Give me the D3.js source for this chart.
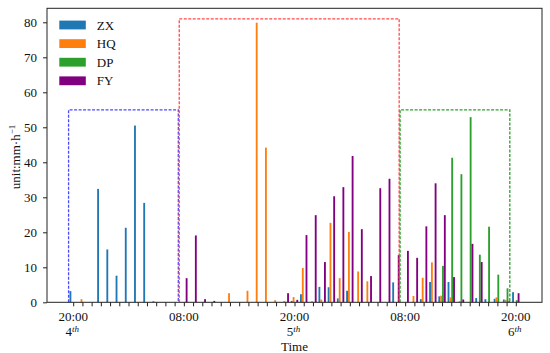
<!DOCTYPE html>
<html>
<head>
<meta charset="utf-8">
<script src="https://cdn.jsdelivr.net/npm/d3@7"></script>
<style>
  body { margin: 0; background: #fff; }
  text { font-family: "Liberation Serif", "Times New Roman", serif; }
</style>
</head>
<body>
<div id="chart"></div>
<script>
// hourly rainfall, index 0 = 20:00 on the 4th, 48 = 20:00 on the 6th
var series = ["ZX", "HQ", "DP", "FY"]
var colors = ["#1f77b4", "#ff7f0e", "#2ca02c", "#800080"]

var ZX = [3.2, 0, 0, 32.4, 15.1, 7.6, 21.3, 50.5, 28.4, 0.3, 0, 0,
  0, 0, 0, 0, 0, 0, 0, 0, 0, 0, 0, 0,
  0.4, 2.3, 0, 4.4, 4.3, 1.1, 3.3, 0, 0, 0, 0, 5.7,
  0, 0, 0.9, 5.8, 1.7, 5.8, 0, 0, 1.2, 0.9, 1.0, 0.8,
  2.9]
var HQ = [0, 0.9, 0, 0, 0, 0, 0, 0, 0, 0, 0, 0,
  0, 0, 0, 0, 0, 2.6, 0, 3.3, 79.9, 44.2, 0.6, 0.4,
  1.5, 9.8, 0.3, 0.8, 22.7, 6.9, 20.1, 8.8, 6.0, 0, 0, 0,
  0, 1.8, 7.0, 11.4, 1.9, 1.4, 0.3, 0, 0, 0, 1.4, 0.7,
  0]
var DP = [0, 0, 0, 0, 0, 0, 0, 0, 0, 0, 0, 0,
  0, 0, 0, 0, 0, 0, 0, 0, 0, 0, 0, 0,
  0, 0, 0, 0, 0, 0, 0, 0, 0, 0, 0, 0,
  0, 0, 0, 0, 10.4, 41.3, 36.6, 52.9, 13.6, 21.6, 7.9, 4.0,
  0.6]
var FY = [0, 0, 0, 0, 0, 0, 0, 0, 0, 0, 0, 0,
  6.9, 19.1, 0.9, 0.4, 0, 0, 0, 0, 0, 0, 0, 2.6,
  0.7, 19.2, 24.9, 11.5, 30.3, 32.9, 41.8, 20.9, 7.5, 32.6, 35.3, 13.5,
  14.7, 12.7, 21.7, 34.0, 24.9, 7.2, 0.8, 16.7, 11.5, 0, 0, 0.3,
  2.6]

// tick labels
var labelHours = [0, 12, 24, 36, 48]
var labelTimes = ["20:00", "08:00", "20:00", "08:00", "20:00"]
var labelDays = ["4", "", "5", "", "6"]

// dashed boxes: start hour, end hour, height
var boxStart = [-0.5, 11.5, 35.45]
var boxEnd = [11.4, 35.35, 47.35]
var boxTop = [55, 81, 55]
var boxColors = ["#4a4aff", "#ff4a4a", "#2ca02c"]

var yTicks = [0, 10, 20, 30, 40, 50, 60, 70, 80]

var values = { ZX: ZX, HQ: HQ, DP: DP, FY: FY }
var n = ZX.length

var W = 550, H = 353
var margin = { top: 8.3, right: 8, bottom: 50.7, left: 47 }
var iw = W - margin.left - margin.right
var ih = H - margin.top - margin.bottom
var fs = 13

var pad = 0.05 * (n - 1 + 0.8)
var x = d3.scaleLinear()
  .domain([-0.4 - pad, n - 1 + 0.4 + pad])
  .range([0, iw])

var offset = d3.scaleBand()
  .domain(series)
  .range([-0.4, 0.4])

var y = d3.scaleLinear()
  .domain([0, 84])
  .range([ih, 0])

var svg = d3.select("#chart").append("svg")
  .attr("width", W)
  .attr("height", H)

var g = svg.append("g")
  .attr("transform", `translate(${margin.left},${margin.top})`)

// bars
series.forEach(function (s, k) {
  g.append("g")
    .attr("fill", colors[k])
    .selectAll("rect")
    .data(values[s])
    .join("rect")
    .attr("x", (d, i) => x(i + offset(s)))
    .attr("width", x(offset.bandwidth()) - x(0))
    .attr("y", d => y(d))
    .attr("height", d => y(0) - y(d))
})

// dashed boxes
boxStart.forEach(function (b, k) {
  g.append("path")
    .attr("d", d3.line()([
      [x(b), y(0)], [x(b), y(boxTop[k])],
      [x(boxEnd[k]), y(boxTop[k])], [x(boxEnd[k]), y(0)]
    ]))
    .attr("fill", "none")
    .attr("stroke", boxColors[k])
    .attr("stroke-width", 1.3)
    .attr("stroke-dasharray", "3,1.5")
})

// axes
var xAxis = g.append("g")
  .attr("transform", `translate(0,${ih})`)
  .call(d3.axisBottom(x).tickValues(d3.range(n)).tickSize(4).tickFormat(""))

var yAxis = g.append("g")
  .call(d3.axisLeft(y).tickValues(yTicks).tickSize(4).tickPadding(6))

;[xAxis, yAxis].forEach(function (a) {
  a.select(".domain").remove()
  a.selectAll("line").attr("stroke", "#222")
  a.selectAll("text").attr("font-size", fs).attr("fill", "#111")
    .style("font-family", "'Liberation Serif', serif")
})

g.append("rect")
  .attr("width", iw)
  .attr("height", ih)
  .attr("fill", "none")
  .attr("stroke", "#222")
  .attr("stroke-width", 1)

// x tick labels (two lines)
labelHours.forEach(function (h, k) {
  g.append("text")
    .attr("x", x(h))
    .attr("y", ih + 18.5)
    .attr("text-anchor", "middle")
    .attr("font-size", fs)
    .attr("fill", "#111")
    .text(labelTimes[k])
  if (labelDays[k]) {
    var t = g.append("text")
      .attr("x", x(h) - 1)
      .attr("y", ih + 34)
      .attr("text-anchor", "middle")
      .attr("font-size", fs)
      .attr("fill", "#111")
    t.append("tspan").text(labelDays[k])
    t.append("tspan")
      .attr("dy", -4)
      .attr("font-size", 9)
      .attr("font-style", "italic")
      .text("th")
  }
})

g.append("text")
  .attr("x", iw / 2)
  .attr("y", ih + 48.5)
  .attr("text-anchor", "middle")
  .attr("font-size", fs)
  .attr("fill", "#111")
  .text("Time")

var yl = svg.append("text")
  .attr("transform", "translate(20,157) rotate(-90)")
  .attr("text-anchor", "middle")
  .attr("font-size", 13)
  .attr("fill", "#111")
yl.append("tspan").text("unit:mm·h")
yl.append("tspan")
  .attr("dy", -5)
  .attr("font-size", 9)
  .text("−1")

// legend
var legend = svg.append("g")
  .attr("transform", "translate(59.3,25)")

series.forEach(function (s, k) {
  var row = legend.append("g")
    .attr("transform", `translate(0,${k * 18.6})`)
  row.append("rect")
    .attr("y", -4.4)
    .attr("width", 26.5)
    .attr("height", 8.8)
    .attr("fill", colors[k])
  row.append("text")
    .attr("x", 37.5)
    .attr("dy", "0.35em")
    .attr("font-size", fs)
    .attr("fill", "#111")
    .text(s)
})
</script>
</body>
</html>
